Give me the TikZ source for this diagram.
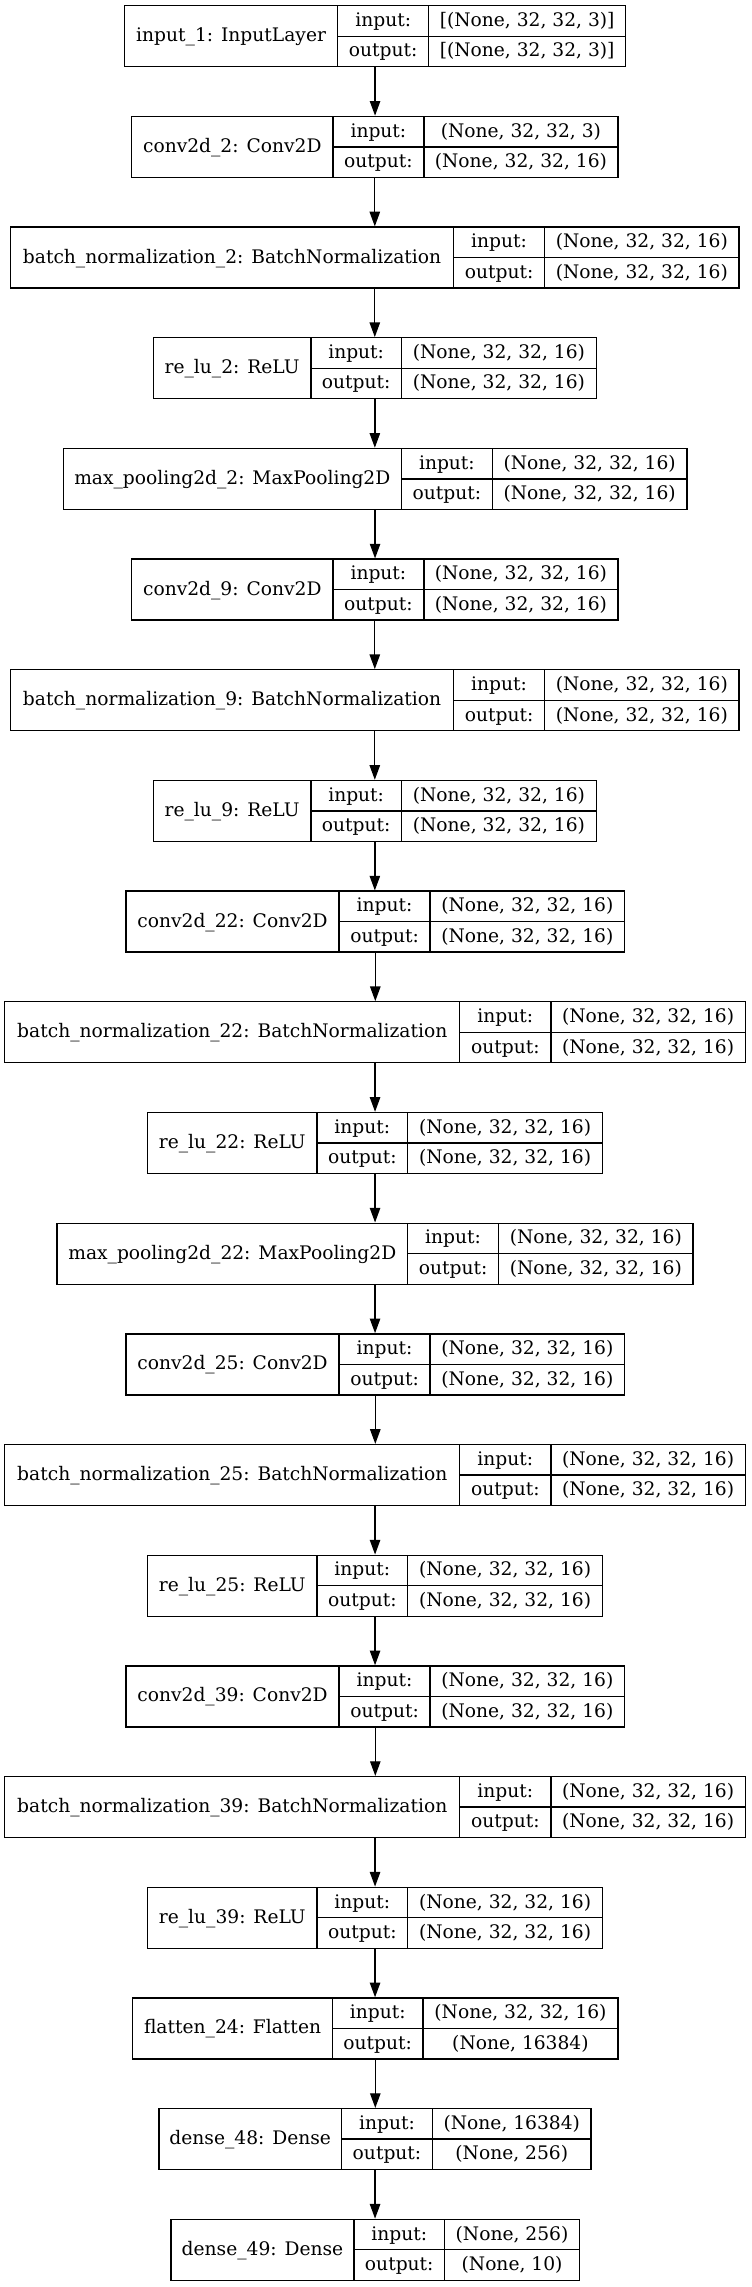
\documentclass[tikz,border=0pt]{standalone}
\usepackage{fontspec}
\setmainfont{DejaVu Serif}
\usetikzlibrary{arrows.meta}
\tikzset{
  boxline/.style={draw=black, line width=1pt},
  celltext/.style={anchor=base, inner sep=0pt, font=\fontsize{14}{16}\selectfont},
  flow/.style={draw=black, line width=1pt, -{Triangle[length=11pt,width=7.8pt]}},
}
\newcommand\layerbox[9]{%
  \pgfmathsetmacro\Ty{5.7+110.68*#2}%
  \pgfmathsetmacro\My{\Ty+30.5}%
  \pgfmathsetmacro\By{\Ty+61}%
  \node[boxline, rectangle, inner sep=0pt, minimum width={(#6-#3)*0.75pt}, minimum height=45.75pt] (#1) at ({(#3+#6)/2},\My) {};
  \draw[boxline] (#4,\Ty) -- (#4,\By) (#5,\Ty) -- (#5,\By) (#4,\My) -- (#6,\My);
  \node[celltext] (#1-l) at ({(#3+#4)/2},\My+5.5) {#7};
  \node[celltext] (#1-i) at ({(#4+#5)/2},\Ty+20.75) {input:};
  \node[celltext] (#1-o) at ({(#4+#5)/2},\My+20.75) {output:};
  \node[celltext] (#1-iv) at ({(#5+#6)/2},\Ty+20.75) {#8};
  \node[celltext] (#1-ov) at ({(#5+#6)/2},\My+20.75) {#9};
}
\begin{document}
\begin{tikzpicture}[x=0.75pt,y=-0.75pt]
\fill[white] (0,0) rectangle (751,2287);
\useasboundingbox (0,0) rectangle (751,2287);
\layerbox{l0}{0}{124.5}{337.7}{428.7}{625.6}{input\_1: InputLayer}{[(None, 32, 32, 3)]}{[(None, 32, 32, 3)]}
\layerbox{l1}{1}{131.7}{332.9}{423.9}{617.9}{conv2d\_2: Conv2D}{(None, 32, 32, 3)}{(None, 32, 32, 16)}
\layerbox{l2}{2}{10.5}{453.6}{544.6}{739.1}{batch\_normalization\_2: BatchNormalization}{(None, 32, 32, 16)}{(None, 32, 32, 16)}
\layerbox{l3}{3}{153.3}{310.9}{401.4}{596.4}{re\_lu\_2: ReLU}{(None, 32, 32, 16)}{(None, 32, 32, 16)}
\layerbox{l4}{4}{63.2}{401.4}{492.4}{686.9}{max\_pooling2d\_2: MaxPooling2D}{(None, 32, 32, 16)}{(None, 32, 32, 16)}
\layerbox{l5}{5}{131.7}{332.9}{423.9}{617.9}{conv2d\_9: Conv2D}{(None, 32, 32, 16)}{(None, 32, 32, 16)}
\layerbox{l6}{6}{10.5}{453.6}{544.6}{739.1}{batch\_normalization\_9: BatchNormalization}{(None, 32, 32, 16)}{(None, 32, 32, 16)}
\layerbox{l7}{7}{153.3}{310.9}{401.4}{596.4}{re\_lu\_9: ReLU}{(None, 32, 32, 16)}{(None, 32, 32, 16)}
\layerbox{l8}{8}{126}{339.1}{430.1}{624.6}{conv2d\_22: Conv2D}{(None, 32, 32, 16)}{(None, 32, 32, 16)}
\layerbox{l9}{9}{4.8}{459.8}{550.9}{745.3}{batch\_normalization\_22: BatchNormalization}{(None, 32, 32, 16)}{(None, 32, 32, 16)}
\layerbox{l10}{10}{147.5}{317.1}{407.6}{602.6}{re\_lu\_22: ReLU}{(None, 32, 32, 16)}{(None, 32, 32, 16)}
\layerbox{l11}{11}{57}{407.6}{498.6}{693.1}{max\_pooling2d\_22: MaxPooling2D}{(None, 32, 32, 16)}{(None, 32, 32, 16)}
\layerbox{l12}{12}{126}{339.1}{430.1}{624.6}{conv2d\_25: Conv2D}{(None, 32, 32, 16)}{(None, 32, 32, 16)}
\layerbox{l13}{13}{4.8}{459.8}{550.9}{745.3}{batch\_normalization\_25: BatchNormalization}{(None, 32, 32, 16)}{(None, 32, 32, 16)}
\layerbox{l14}{14}{147.5}{317.1}{407.6}{602.6}{re\_lu\_25: ReLU}{(None, 32, 32, 16)}{(None, 32, 32, 16)}
\layerbox{l15}{15}{126}{339.1}{430.1}{624.6}{conv2d\_39: Conv2D}{(None, 32, 32, 16)}{(None, 32, 32, 16)}
\layerbox{l16}{16}{4.8}{459.8}{550.9}{745.3}{batch\_normalization\_39: BatchNormalization}{(None, 32, 32, 16)}{(None, 32, 32, 16)}
\layerbox{l17}{17}{147.5}{317.1}{407.6}{602.6}{re\_lu\_39: ReLU}{(None, 32, 32, 16)}{(None, 32, 32, 16)}
\layerbox{l18}{18}{132.7}{332.4}{423}{617.9}{flatten\_24: Flatten}{(None, 32, 32, 16)}{(None, 16384)}
\layerbox{l19}{19}{159}{341.5}{432.5}{591.1}{dense\_48: Dense}{(None, 16384)}{(None, 256)}
\layerbox{l20}{20}{171}{354}{444.5}{579.6}{dense\_49: Dense}{(None, 256)}{(None, 10)}
\foreach \a/\b in {l0/l1,l1/l2,l2/l3,l3/l4,l4/l5,l5/l6,l6/l7,l7/l8,l8/l9,l9/l10,l10/l11,l11/l12,l12/l13,l13/l14,l14/l15,l15/l16,l16/l17,l17/l18,l18/l19,l19/l20}
  \draw[flow] (\a.south) -- (\a.south |- \b.north);
\end{tikzpicture}
\end{document}
